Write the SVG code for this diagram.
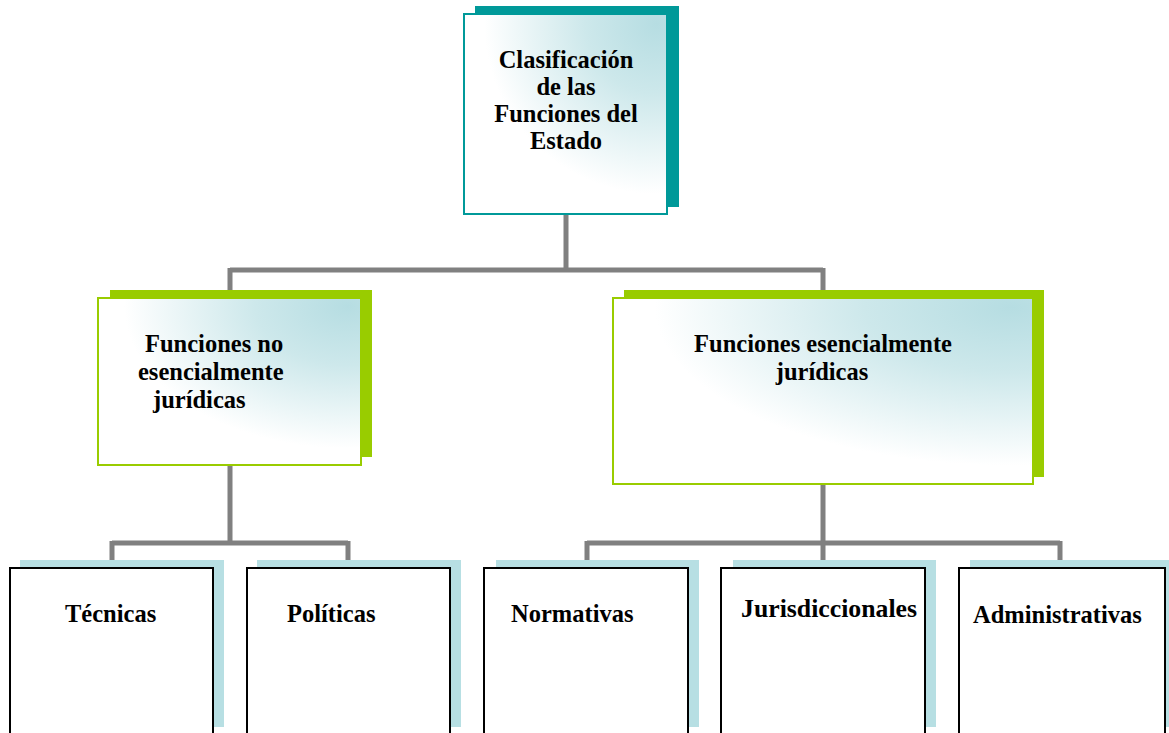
<svg xmlns="http://www.w3.org/2000/svg" width="1169" height="733" viewBox="0 0 1169 733">
<defs>
<radialGradient id="g" cx="0.95" cy="0.05" r="1" fx="0.95" fy="0.05">
<stop offset="0" stop-color="#B6DDE2"/>
<stop offset="0.35" stop-color="#CDE8EB"/>
<stop offset="0.85" stop-color="#FFFFFF"/>
</radialGradient>
<style>
.c{stroke:#808080;stroke-width:5;fill:none}
.t{font-family:"Liberation Serif","Times New Roman",serif;font-weight:bold;font-size:24.5px;fill:#000}
.m{text-anchor:middle}
.sh1{fill:#009999}
.sh2{fill:#99CC00}
.sh3{fill:#B7DFE3}
.b1{fill:url(#g);stroke:#009999;stroke-width:2}
.b2{fill:url(#g);stroke:#99CC00;stroke-width:2}
.b3{fill:#FFFFFF;stroke:#000;stroke-width:2}
</style>
</defs>
<rect width="1169" height="733" fill="#FFFFFF"/>
<g id="connectors">
<path class="c" d="M566 214V270M230 270H823M230 268V298M823 268V298"/>
<path class="c" d="M230 465V543M112 543H348M112 541V568M348 541V568"/>
<path class="c" d="M823 484V543M587 543H1060M587 541V568M823 541V568M1060 541V568"/>
</g>
<g id="root">
<rect class="sh1" x="475" y="6" width="204" height="201"/>
<rect class="b1" x="464" y="14" width="203" height="200"/>
<text class="t m" x="566" y="68">Clasificación</text>
<text class="t m" x="566" y="95">de las</text>
<text class="t m" x="566" y="122">Funciones del</text>
<text class="t m" x="566" y="149">Estado</text>
</g>
<g id="no-esenciales">
<rect class="sh2" x="110" y="290" width="262" height="167"/>
<rect class="b2" x="98" y="298" width="263" height="167"/>
<text class="t" x="145" y="352">Funciones no</text>
<text class="t" x="138" y="380">esencialmente</text>
<text class="t" x="153" y="408">jurídicas</text>
</g>
<g id="esenciales">
<rect class="sh2" x="624" y="290" width="420" height="187"/>
<rect class="b2" x="613" y="298" width="420" height="186"/>
<text class="t m" x="823" y="352">Funciones esencialmente</text>
<text class="t m" x="822" y="380">jurídicas</text>
</g>
<g id="tecnicas">
<rect class="sh3" x="20" y="560" width="204" height="167"/>
<rect class="b3" x="10" y="568" width="203" height="170"/>
<text class="t" x="65" y="622">Técnicas</text>
</g>
<g id="politicas">
<rect class="sh3" x="257" y="560" width="204" height="167"/>
<rect class="b3" x="247" y="568" width="203" height="170"/>
<text class="t" x="287" y="622">Políticas</text>
</g>
<g id="normativas">
<rect class="sh3" x="496" y="560" width="203" height="167"/>
<rect class="b3" x="484" y="568" width="204" height="170"/>
<text class="t" x="511" y="622">Normativas</text>
</g>
<g id="jurisdiccionales">
<rect class="sh3" x="733" y="560" width="203" height="167"/>
<rect class="b3" x="721" y="568" width="204" height="170"/>
<text class="t" x="741" y="617" textLength="176" lengthAdjust="spacingAndGlyphs">Jurisdiccionales</text>
</g>
<g id="administrativas">
<rect class="sh3" x="970" y="560" width="199" height="167"/>
<rect class="b3" x="959" y="568" width="206" height="170"/>
<text class="t" x="973" y="623">Administrativas</text>
</g>
</svg>
